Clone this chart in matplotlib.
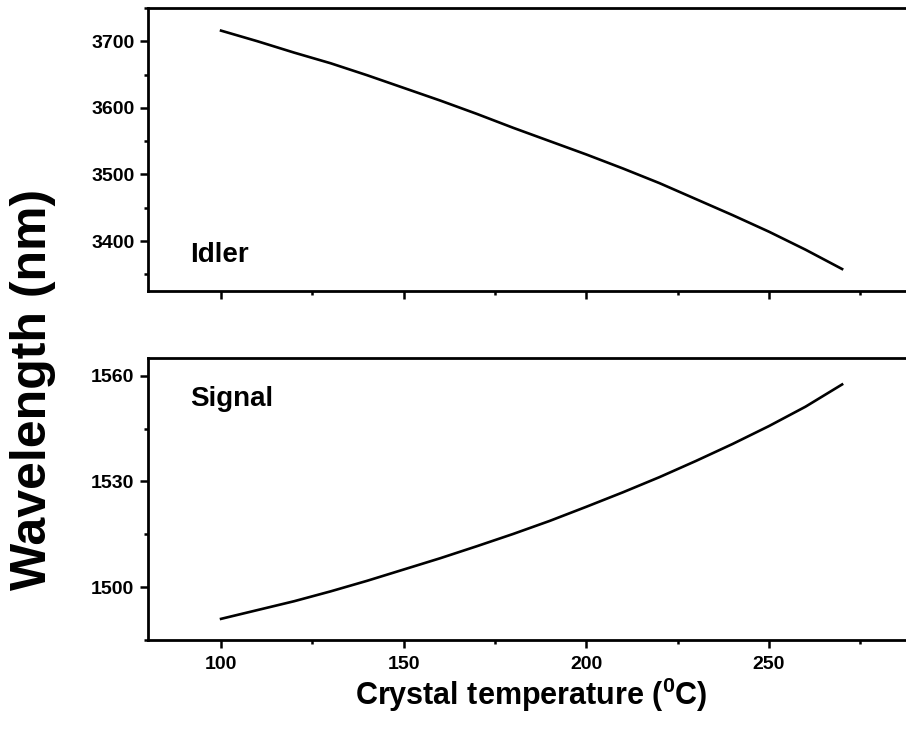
import numpy as np
import matplotlib.pyplot as plt
from matplotlib.ticker import FixedLocator, MultipleLocator

plt.rcParams['font.family'] = ['Liberation Sans', 'DejaVu Sans']
plt.rcParams['font.weight'] = 'bold'
plt.rcParams['mathtext.fontset'] = 'custom'
plt.rcParams['mathtext.rm'] = 'Liberation Sans:bold'
plt.rcParams['mathtext.bf'] = 'Liberation Sans:bold'

# crystal temperature (C)
temp = [100, 110, 120, 130, 140, 150, 160, 170, 180, 190,
        200, 210, 220, 230, 240, 250, 260, 270]
# idler wavelength (nm)
idler = [3716, 3700, 3683, 3667, 3649, 3630, 3611, 3591, 3570, 3550,
         3530, 3509, 3487, 3463, 3439, 3414, 3387, 3358]
# signal wavelength (nm)
signal = [1491.0, 1493.5, 1496.0, 1498.8, 1501.8, 1505.0, 1508.2, 1511.6, 1515.1, 1518.8,
          1522.8, 1526.9, 1531.2, 1535.8, 1540.6, 1545.7, 1551.2, 1557.5]

x_major = [100, 150, 200, 250]
x_minor = [125, 175, 225, 275]

W, H = 906, 729
fig = plt.figure(figsize=(W / 100, H / 100), dpi=100)

# axes run past the right edge of the figure
left = 148 / W
width = 803.7 / W
ax1 = fig.add_axes([left, (H - 291) / H, width, 283 / H])
ax2 = fig.add_axes([left, (H - 640) / H, width, 282 / H])

for ax in (ax1, ax2):
    ax.set_xlim(80, 300)
    ax.xaxis.set_major_locator(FixedLocator(x_major))
    ax.xaxis.set_minor_locator(FixedLocator(x_minor))
    for s in ax.spines.values():
        s.set_linewidth(2.0)
    ax.tick_params(which='major', direction='out', length=5.8, width=1.8,
                   labelsize=14, pad=4.0)
    ax.tick_params(which='minor', direction='out', length=3.2, width=1.8)
    ax.tick_params(axis='x', which='major', pad=6.0)

ax1.plot(temp, idler, color='black', lw=1.9)
ax1.set_ylim(3325, 3750)
ax1.yaxis.set_major_locator(MultipleLocator(100))
ax1.yaxis.set_minor_locator(MultipleLocator(50))
ax1.tick_params(axis='x', labelbottom=False)
ax1.text(91.5, 3368, 'Idler', fontsize=20, fontweight='bold')

ax2.plot(temp, signal, color='black', lw=1.9)
ax2.set_ylim(1485, 1565)
ax2.yaxis.set_major_locator(MultipleLocator(30))
ax2.yaxis.set_minor_locator(MultipleLocator(15))
ax2.text(91.5, 1551.5, 'Signal', fontsize=20, fontweight='bold')

for lab in ax1.get_yticklabels() + ax2.get_yticklabels() + ax2.get_xticklabels():
    lab.set_fontweight('bold')

fig.text(531 / W, 1 - 705 / H, r'Crystal temperature ($^{0}$C)',
         ha='center', va='baseline', fontsize=22, fontweight='bold')
fig.text(10 / W, 1 - 389 / H, 'Wavelength (nm)', rotation=90,
         ha='left', va='center', fontsize=36, fontweight='bold')

fig.savefig('out.png', dpi=100)
